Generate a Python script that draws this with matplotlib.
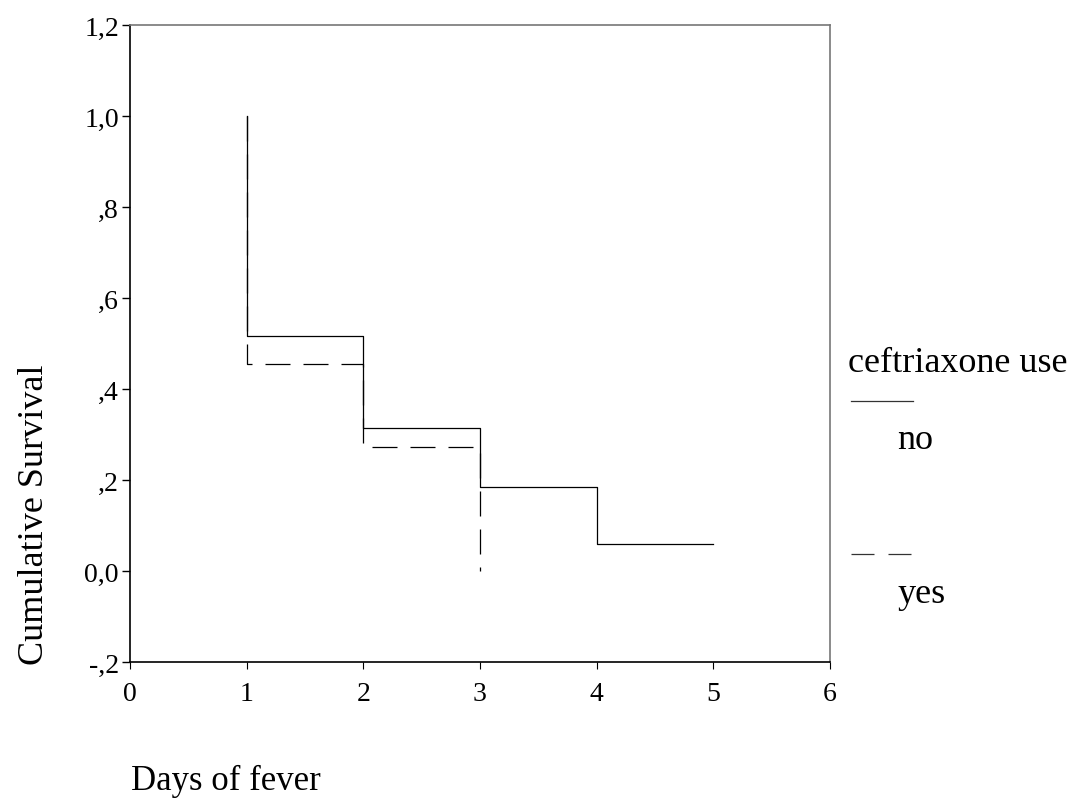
import numpy as np
import matplotlib
matplotlib.use('Agg')
import matplotlib.pyplot as plt
from matplotlib.lines import Line2D

plt.rcParams['font.family'] = ['Liberation Serif', 'DejaVu Serif']

# Kaplan-Meier steps
days_no = [1, 1, 2, 3, 4, 5]
surv_no = [1.0, 0.516, 0.315, 0.185, 0.060, 0.060]
days_yes = [1, 1, 2, 3]
surv_yes = [1.0, 0.455, 0.273, 0.0]

xticks = [0, 1, 2, 3, 4, 5, 6]
yticks = [-0.2, 0.0, 0.2, 0.4, 0.6, 0.8, 1.0, 1.2]
ylabels = ['-,2', '0,0', ',2', ',4', ',6', ',8', '1,0', '1,2']

W, H = 1069, 804

fig = plt.figure(figsize=(W / 100, H / 100), dpi=100, facecolor='white')
ax = fig.add_axes([130/W, 1 - 663/H, 700/W, 637/H])

ax.plot(days_no, surv_no, drawstyle='steps-post', color='black', lw=0.9)
ax.plot(days_yes, surv_yes, drawstyle='steps-post', color='black', lw=0.9,
        dashes=(20, 10.4))

ax.set_xlim(0, 6)
ax.set_ylim(-0.2, 1.2)
ax.set_xticks(xticks)
ax.set_xticklabels([str(t) for t in xticks], fontsize=20)
ax.set_yticks(yticks)
ax.set_yticklabels(ylabels, fontsize=20)
ax.tick_params(axis='y', length=6, width=1, pad=2)
ax.tick_params(axis='x', length=5, width=0.8, pad=9)

for s in ['left', 'bottom']:
    ax.spines[s].set_color('black')
    ax.spines[s].set_linewidth(1.2)
for s in ['top', 'right']:
    ax.spines[s].set_color('#777777')
    ax.spines[s].set_linewidth(1.2)

fig.text(43/W, 1 - 515/H, 'Cumulative Survival', rotation=90,
         rotation_mode='anchor', ha='center', va='baseline', fontsize=26)
fig.text(131/W, 1 - 790/H, 'Days of fever', ha='left', va='baseline',
         fontsize=25)

# legend to the right
fig.text(848/W, 1 - 372/H, 'ceftriaxone use', ha='left', va='baseline',
         fontsize=26)
fig.add_artist(Line2D([851/W, 913/W], [1 - 402/H, 1 - 402/H],
                      color='#333333', lw=0.9))
fig.text(897/W, 1 - 449/H, 'no', ha='left', va='baseline', fontsize=26)
fig.add_artist(Line2D([851/W, 913/W], [1 - 555/H, 1 - 555/H],
                      color='#333333', lw=0.9, dashes=(18.4, 11.2)))
fig.text(897/W, 1 - 603/H, 'yes', ha='left', va='baseline', fontsize=26)

fig.savefig('out.png', dpi=100, facecolor='white')
